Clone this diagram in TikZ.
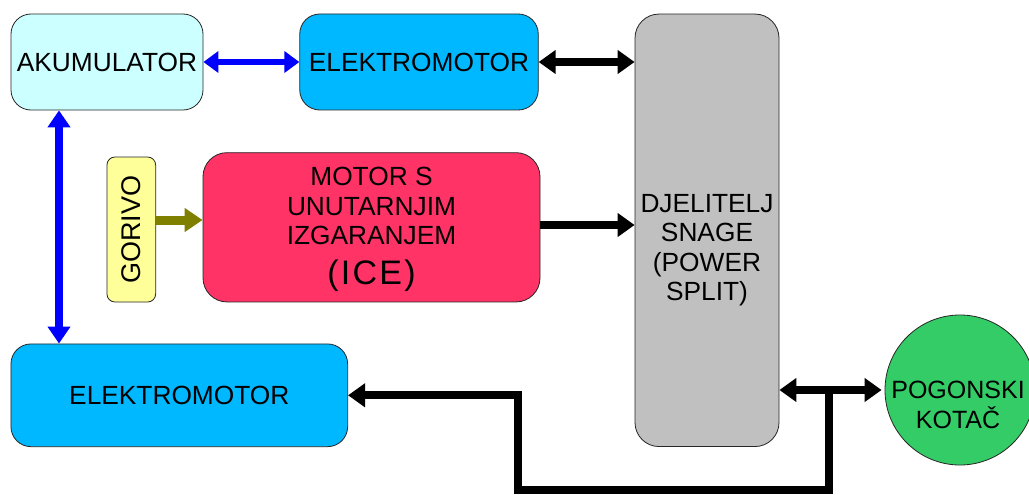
\documentclass[tikz,border=0pt]{standalone}
\usepackage{fontspec}
\setmainfont{Liberation Sans}
\usetikzlibrary{arrows.meta}
\definecolor{akumc}{HTML}{CCFFFF}
\definecolor{emc}{HTML}{00B8FF}
\definecolor{splitc}{HTML}{C0C0C0}
\definecolor{gorc}{HTML}{FFFF99}
\definecolor{icec}{HTML}{FF3366}
\definecolor{wheelc}{HTML}{33CC66}
\definecolor{olivec}{HTML}{808000}
\definecolor{bluec}{HTML}{0000FF}
\tikzset{
  box/.style={draw=black!85, line width=0.8pt, inner sep=0pt, align=center,
    font=\fontsize{26.3}{29}\selectfont},
  lbl/.style={inner sep=0pt, align=center, font=\fontsize{26.3}{29.5}\selectfont},
  bluearr/.style={draw=bluec, line width=6.5pt,
    {Triangle[length=15pt,width=21pt]}-{Triangle[length=15pt,width=21pt]}},
  bluevarr/.style={draw=bluec, line width=8.5pt,
    {Triangle[length=17pt,width=22pt]}-{Triangle[length=17pt,width=22pt]}},
  blackarr/.style={draw=black, line width=8pt, -{Triangle[length=17pt,width=23pt]}},
  blackdarr/.style={draw=black, line width=8pt,
    {Triangle[length=17pt,width=23pt]}-{Triangle[length=17pt,width=23pt]}},
  olivearr/.style={draw=olivec, line width=9pt, -{Triangle[length=18pt,width=23pt]}},
}
\begin{document}
\begin{tikzpicture}[x=1pt,y=-1pt]
\clip (0,0) rectangle (1029,495);
\fill[white] (0,0) rectangle (1029,495);

\node[box, fill=akumc, rounded corners=20pt, minimum width=192pt, minimum height=96pt]
  (akum) at (107,62) {AKUMULATOR};
\node[box, fill=emc, rounded corners=20pt, minimum width=238.5pt, minimum height=96pt]
  (em1) at (419,62) {ELEKTROMOTOR};
\node[box, fill=splitc, rounded corners=24pt, minimum width=144pt, minimum height=432.5pt]
  (split) at (707,230.3) {};
\node[lbl] (splitlbl) at (707,250) {DJELITELJ\\SNAGE\\(POWER\\SPLIT)};
\node[box, fill=gorc, rounded corners=8pt, minimum width=48.7pt, minimum height=145pt]
  (gorivo) at (131.3,229.5) {};
\node[lbl, rotate=90, font=\fontsize{27}{30}\selectfont] (gorlbl) at (131.3,229.5) {GORIVO};
\node[box, fill=icec, rounded corners=24pt, minimum width=337pt, minimum height=149.3pt]
  (ice) at (371.5,227.3) {};
\node[lbl] (icelbl) at (371.5,229.5)
  {MOTOR S\\UNUTARNJIM\\IZGARANJEM\\[10pt]{\fontsize{34}{34}\selectfont\addfontfeatures{LetterSpace=6.5}(ICE)}};
\node[box, fill=emc, rounded corners=20pt, minimum width=336.7pt, minimum height=102.7pt]
  (em2) at (179.3,395.3) {ELEKTROMOTOR};
\node[draw=black!85, line width=0.8pt, fill=wheelc, circle, minimum size=150pt, inner sep=0pt]
  (wheel) at (960,390) {};
\node[lbl, font=\fontsize{25}{30}\selectfont] (wheellbl) at (958,405) {POGONSKI\\KOTAČ};

% connectors
\draw[bluearr] (akum.east) -- (em1.west);
\draw[bluevarr] ([xshift=-48pt]akum.south) -- ([xshift=-120.3pt]em2.north);
\draw[blackdarr] (em1.east) -- (em1.east -| split.west);
\draw[olivearr] (gorivo.east |- 0,220) -- (ice.west |- 0,220);
\draw[blackarr] (ice.east |- 0,225) -- (split.west |- 0,225);
\draw[blackdarr] (split.east |- wheel.west) -- ([xshift=-3pt]wheel.west);
\coordinate (j) at (829,390);
\coordinate (bl) at (518,490);
\draw[blackarr, line join=miter] (j) |- (bl) |- (em2.east);
\end{tikzpicture}
\end{document}
